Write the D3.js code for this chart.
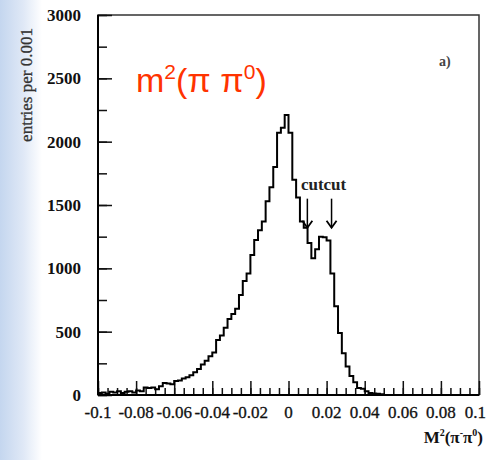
<!DOCTYPE html>
<html>
<head>
<meta charset="utf-8">
<script src="https://cdn.jsdelivr.net/npm/d3@7"></script>
<style>
  html, body { margin: 0; padding: 0; background: #fff; }
  svg { display: block; }
</style>
</head>
<body>
<div id="chart"></div>
<script>
// Histogram bins: left edges in M^2 (step 0.002), counts
const binWidth = 0.002;
const binStart = -0.1;
const counts = [
  15, 20, 10, 25, 20, 30, 15, 25, 30, 20,
  35, 30, 60, 55, 60, 45, 70, 95, 90, 85,
  110, 115, 130, 140, 155, 180, 205, 240, 270, 305,
  335, 435, 470, 530, 600, 640, 680, 790, 900, 960,
  1105, 1224, 1300, 1370, 1530, 1640, 1800, 2070, 2110, 2210,
  2070, 1700, 1560, 1370, 1320, 1200, 1080, 1150, 1250, 1245,
  1220, 960, 700, 490, 330, 225, 150, 100, 55, 50,
  30, 15, 12, 10, 5, 0, 0, 0, 0, 0,
  0, 0, 0, 0, 0, 0, 0, 0, 0, 0,
  0, 0, 0, 0, 0, 0, 0, 0, 0, 0
];
const xTickValues = [-0.1, -0.08, -0.06, -0.04, -0.02, 0, 0.02, 0.04, 0.06, 0.08, 0.1];
const xTickLabels = ["-0.1", "-0.08", "-0.06", "-0.04", "-0.02", "0", "0.02", "0.04", "0.06", "0.08", "0.1"];
const yTickValues = [0, 500, 1000, 1500, 2000, 2500, 3000];
const cutPositions = [0.0099, 0.0226];

const width = 486;
const height = 460;
const margin = { top: 15, right: 7, bottom: 65, left: 98 };
const innerW = width - margin.left - margin.right;
const innerH = height - margin.top - margin.bottom;

const svg = d3.select("#chart")
  .append("svg")
  .attr("width", width)
  .attr("height", height);

// light blue slide background on the left
const defs = svg.append("defs");
const bg = defs.append("linearGradient").attr("id", "bgGrad");
bg.append("stop").attr("offset", "0%").attr("stop-color", "#c4d6ef");
bg.append("stop").attr("offset", "55%").attr("stop-color", "#dfe8f6");
bg.append("stop").attr("offset", "100%").attr("stop-color", "#ffffff");
svg.append("rect").attr("x", 0).attr("y", 0).attr("width", 42).attr("height", height)
  .attr("fill", "url(#bgGrad)");

const g = svg.append("g").attr("transform", `translate(${margin.left},${margin.top})`);

const x = d3.scaleLinear().domain([-0.1, 0.1]).range([0, innerW]);
const y = d3.scaleLinear().domain([0, 3000]).range([innerH, 0]);

// frame
g.append("rect")
  .attr("x", 0).attr("y", 0)
  .attr("width", innerW).attr("height", innerH)
  .attr("fill", "none")
  .attr("stroke", "#333")
  .attr("stroke-width", 1.5);

// x axis ticks (pointing inward)
const xMinor = d3.range(-0.1, 0.1001, 0.005);
g.append("g")
  .attr("transform", `translate(0,${innerH})`)
  .call(d3.axisTop(x).tickValues(xMinor).tickSize(7).tickFormat(""))
  .call(a => a.select(".domain").remove())
  .selectAll("line").attr("stroke", "#111").attr("stroke-width", 1.5);
g.append("g")
  .attr("transform", `translate(0,${innerH})`)
  .call(d3.axisTop(x).tickValues(xTickValues).tickSize(14).tickFormat(""))
  .call(a => a.select(".domain").remove())
  .selectAll("line").attr("stroke", "#111").attr("stroke-width", 1.5);

// y axis ticks (pointing inward)
const yMinor = d3.range(0, 3001, 250);
g.append("g")
  .call(d3.axisRight(y).tickValues(yMinor).tickSize(9).tickFormat(""))
  .call(a => a.select(".domain").remove())
  .selectAll("line").attr("stroke", "#111").attr("stroke-width", 1.5);
g.append("g")
  .call(d3.axisRight(y).tickValues(yTickValues).tickSize(14).tickFormat(""))
  .call(a => a.select(".domain").remove())
  .selectAll("line").attr("stroke", "#111").attr("stroke-width", 1.5);

// heavier left and bottom axis lines
g.append("line").attr("x1", 0).attr("x2", 0).attr("y1", 0).attr("y2", innerH)
  .attr("stroke", "#000").attr("stroke-width", 2);
g.append("line").attr("x1", 0).attr("x2", innerW).attr("y1", innerH).attr("y2", innerH)
  .attr("stroke", "#000").attr("stroke-width", 2);

// tick labels
g.selectAll("text.xlab")
  .data(xTickValues)
  .enter()
  .append("text")
  .attr("class", "xlab")
  .attr("x", (d, i) => i === xTickValues.length - 1 ? innerW + 7 : x(d))
  .attr("y", innerH + 23)
  .attr("text-anchor", (d, i) => i === xTickValues.length - 1 ? "end" : "middle")
  .style("font-family", "'Liberation Serif', 'Times New Roman', serif")
  .style("font-size", "17px")
  .style("fill", "#111")
  .style("stroke", "#111")
  .style("stroke-width", 0.3)
  .text((d, i) => xTickLabels[i]);

g.selectAll("text.ylab")
  .data(yTickValues)
  .enter()
  .append("text")
  .attr("class", "ylab")
  .attr("x", -17)
  .attr("y", d => y(d))
  .attr("dy", "0.35em")
  .attr("text-anchor", "end")
  .style("font-family", "'Liberation Serif', 'Times New Roman', serif")
  .style("font-size", "17px")
  .style("font-weight", "bold")
  .style("fill", "#111")
  .text(d => d);

// histogram as a step line
const pts = [[x(binStart), y(0)]];
counts.forEach((c, i) => {
  const x0 = binStart + i * binWidth;
  pts.push([x(x0), y(c)]);
  pts.push([x(x0 + binWidth), y(c)]);
});
pts.push([x(binStart + counts.length * binWidth), y(0)]);
g.append("path")
  .attr("d", d3.line()(pts))
  .attr("fill", "none")
  .attr("stroke", "#000")
  .attr("stroke-width", 2)
  .attr("stroke-linejoin", "miter");

// cut arrows
const arrowTop = y(1550);
const arrowTip = y(1320);
cutPositions.forEach(c => {
  const ax = x(c);
  g.append("line").attr("x1", ax).attr("x2", ax).attr("y1", arrowTop).attr("y2", arrowTip)
    .attr("stroke", "#000").attr("stroke-width", 1.5);
  g.append("path")
    .attr("d", `M${ax - 5},${arrowTip - 7}L${ax},${arrowTip}L${ax + 5},${arrowTip - 7}`)
    .attr("fill", "none").attr("stroke", "#000").attr("stroke-width", 1.8);
});
g.append("text")
  .attr("x", x(0.0065))
  .attr("y", y(1620))
  .style("font-family", "'Liberation Serif', 'Times New Roman', serif")
  .style("font-size", "17px")
  .style("font-weight", "bold")
  .style("fill", "#222")
  .text("cutcut");

// panel tag
g.append("text")
  .attr("x", innerW - 40)
  .attr("y", 51)
  .style("font-family", "'Liberation Serif', 'Times New Roman', serif")
  .style("font-size", "14px")
  .style("font-weight", "bold")
  .style("fill", "#444")
  .text("a)");

// red annotation
const red = svg.append("text")
  .attr("x", 136)
  .attr("y", 92)
  .style("font-family", "'Liberation Sans', Arial, sans-serif")
  .style("font-size", "34px")
  .style("fill", "#ff3300");
red.append("tspan").text("m");
red.append("tspan").attr("dy", -13).style("font-size", "21px").text("2");
red.append("tspan").attr("dy", 13).text("(π π");
red.append("tspan").attr("dy", -13).style("font-size", "21px").text("0");
red.append("tspan").attr("dy", 13).text(")");

// axis titles
svg.append("text")
  .attr("transform", "translate(32,85) rotate(-90)")
  .attr("text-anchor", "middle")
  .style("font-family", "'Liberation Serif', 'Times New Roman', serif")
  .style("font-size", "17px")
  .style("fill", "#333")
  .style("stroke", "#333")
  .style("stroke-width", 0.3)
  .text("entries per 0.001");

const xt = svg.append("text")
  .attr("x", 483)
  .attr("y", 443)
  .attr("text-anchor", "end")
  .style("font-family", "'Liberation Serif', 'Times New Roman', serif")
  .style("font-size", "17px")
  .style("font-weight", "bold")
  .style("fill", "#111");
xt.append("tspan").text("M");
xt.append("tspan").attr("dy", -7).style("font-size", "10px").text("2");
xt.append("tspan").attr("dy", 7).text("(π");
xt.append("tspan").attr("dy", -7).style("font-size", "10px").text("-");
xt.append("tspan").attr("dy", 7).text("π");
xt.append("tspan").attr("dy", -7).style("font-size", "10px").text("0");
xt.append("tspan").attr("dy", 7).text(")");
</script>
</body>
</html>
